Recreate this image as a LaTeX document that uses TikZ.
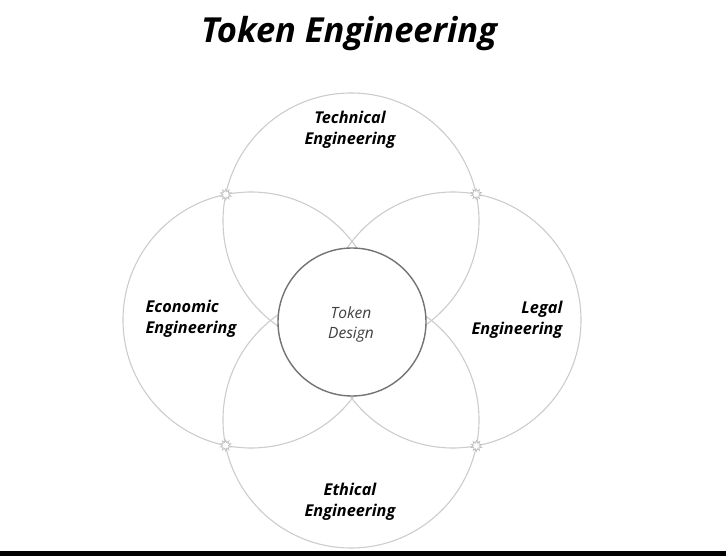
\documentclass[tikz,border=0pt]{standalone}
\usepackage{fontspec}
\setmainfont{Open Sans}
\usetikzlibrary{shapes.symbols}
\tikzstyle{ring} = [draw=black!20, line width=1.1pt, circle, minimum size=256pt, inner sep=0pt]
\tikzstyle{core} = [draw=black!55, line width=1.4pt, circle, fill=white, minimum size=148pt, inner sep=0pt]
\tikzstyle{joint} = [draw=black!25, fill=white, starburst, random starburst=0, starburst points=10, starburst point height=2.5pt, minimum size=11pt, inner sep=0pt, line width=0.7pt]
\tikzstyle{field} = [inner sep=0pt, font=\fontsize{16.3}{21}\selectfont\bfseries\itshape]

\begin{document}
\begin{tikzpicture}[x=1pt, y=-1pt]
\useasboundingbox (0,0) rectangle (726,556);
\fill[black] (0,551) rectangle (726,556);

\node[font=\fontsize{34.5}{38}\selectfont\bfseries\itshape] (title) at (349,34) {Token Engineering};

% four overlapping fields
\node[ring] (tech) at (351,221) {};
\node[ring] (ethic) at (351,420) {};
\node[ring] (econ) at (251,320) {};
\node[ring] (legal) at (453,320) {};

\node[joint] (tl) at (225.8,194.5) {};
\node[joint] (tr) at (476.2,194.1) {};
\node[joint] (bl) at (225.6,445.4) {};
\node[joint] (br) at (476.4,445.9) {};

\node[core] (design) at (352,322) {};
\node[align=center, text=black!75, font=\fontsize{15.5}{20}\selectfont\itshape] (designlbl) at (351,324) {Token\\Design};

\node[field, align=center] (techlbl) at (350,130) {Technical\\Engineering};
\node[field, align=left] (econlbl) at (191,319) {Economic\\Engineering};
\node[field, align=right] (legallbl) at (517,320) {Legal\\Engineering};
\node[field, align=center] (ethiclbl) at (350,502) {Ethical\\Engineering};
\end{tikzpicture}
\end{document}
